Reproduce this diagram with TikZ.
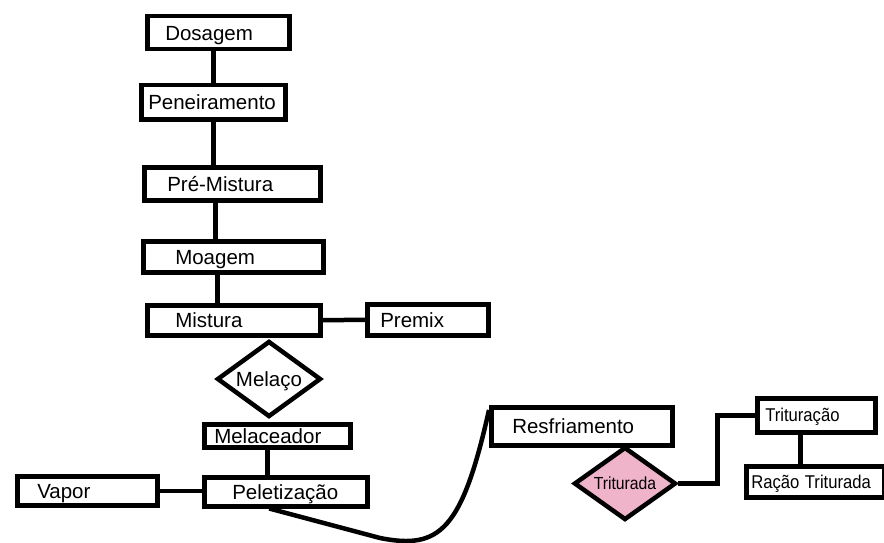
\documentclass[tikz,border=0pt]{standalone}
\usepackage{fontspec}
\setmainfont{Liberation Sans}
\usetikzlibrary{shapes.geometric}

\definecolor{rosa}{RGB}{240,180,202}

\begin{document}
\begin{tikzpicture}[x=1pt,y=-1pt,
   box/.style={rectangle,draw,line width=4.5pt,anchor=north west,inner ysep=0pt,align=left,
      text height=14.7pt,text depth=0pt,font=\fontsize{20.5}{24}\selectfont},
   smallbox/.style={box,text height=13.3pt,font=\fontsize{18.5}{22}\selectfont},
   choice/.style={diamond,draw,line width=4.5pt,inner sep=0pt,aspect=1.4,text height=14.7pt,text depth=0pt},
   link/.style={draw=black,line width=4.5pt}]
   \useasboundingbox (0,0) rectangle (884,543);
   % boxes; format: {name/left/top/width/height/padding/text}, measured at the line centres
   \foreach \name/\x/\y/\w/\h/\pad/\txt in {{dos/145/14/142/33/18/Dosagem},{pen/139/83/144/34/7/Peneiramento},{pmi/142/165/176/33/23/Pré-Mistura},{moa/141/239/180/31/32/Moagem},{mis/145/303/173/30/28/Mistura},{pmx/365/302/121/31/13/Premix},{mlc/202/422/146/23/10/Melaceador},{pel/202/475/163/29/28/Peletização},{vap/15/474/140/29/20/Vapor},{res/489/405/181/38/21/Resfriamento}}
   {
      \pgfmathsetmacro{\tw}{\w-2*\pad}
      \node[box,text width=\tw pt,inner xsep=\pad pt,minimum height=\h pt] (\name) at (\x,\y) {\txt};
   }
   \foreach \name/\x/\y/\w/\h/\pad/\txt in {{tri/755/396/118/34/8/Trituração},{rac/744/464/138/31/5/Ração Triturada}}
   {
      \pgfmathsetmacro{\tw}{\w-2*\pad}
      \node[smallbox,text width=\tw pt,inner xsep=\pad pt,minimum height=\h pt] (\name) at (\x,\y) {\scalebox{0.9}[1]{\txt}};
   }
   % diamonds
   \node[choice,minimum width=104pt,minimum height=76pt,font=\fontsize{20.5}{24}\selectfont] (mco) at (269,379) {Melaço};
   \node[choice,fill=rosa,minimum width=102pt,minimum height=73pt,text height=12.6pt,font=\fontsize{17.5}{21}\selectfont] (tda) at (625,483.5) {\scalebox{0.9}[1]{Triturada}};
   % connectors
   \draw[link] (pen.north) -- (pen.north |- dos.south);
   \draw[link] (pen.south) -- (pen.south |- pmi.north);
   \draw[link] ([xshift=-17pt]pmi.south) -- ([xshift=-17pt]pmi.south |- moa.north);
   \draw[link] ([xshift=-16pt]moa.south) -- ([xshift=-16pt]moa.south |- mis.north);
   \draw[link] (mis.east) -- (pmx.west);
   \draw[link] ([xshift=-10pt]mlc.south) -- ([xshift=-10pt]mlc.south |- pel.north);
   \draw[link] (vap.east) -- (vap.east -| pel.west);
   \draw[link] ([xshift=-16.5pt]pel.south) -- (380,538) .. controls (440,550) and (462,530) .. ([yshift=-5pt]res.north west);
   \draw[link] (tda.east) -- ++(39,0) |- (tri.west);
   \draw[link] ([xshift=-16pt]tri.south) -- ([xshift=-16pt]tri.south |- rac.north);
\end{tikzpicture}
\end{document}
